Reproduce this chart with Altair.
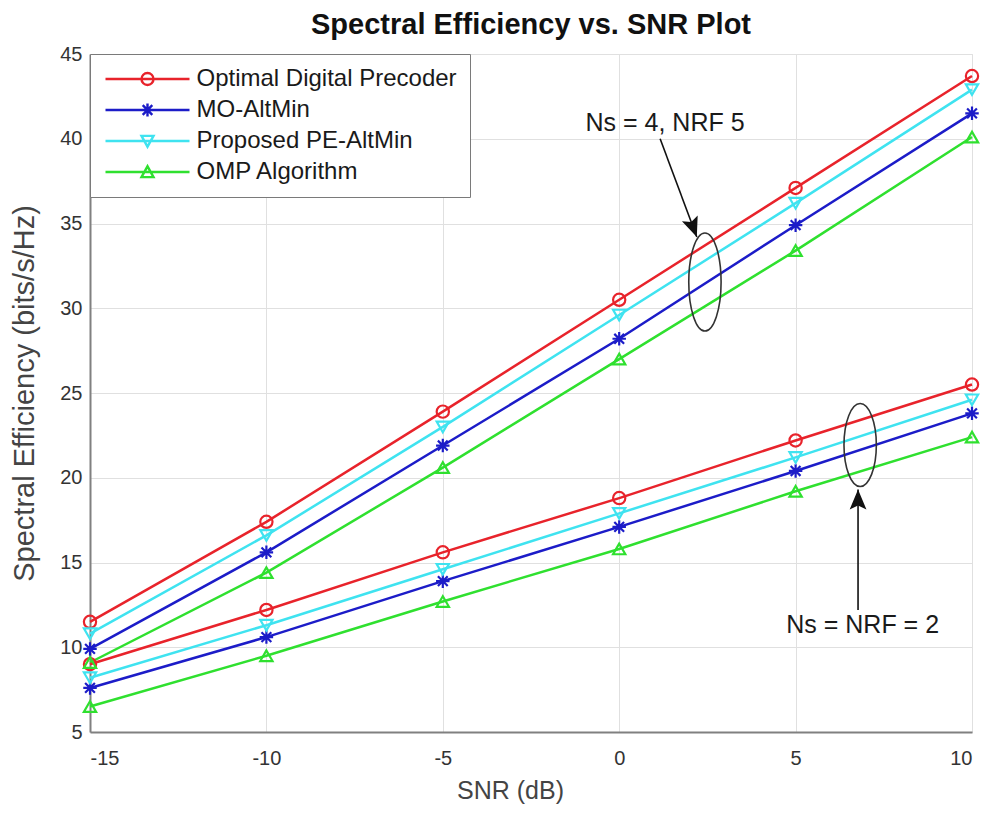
import altair as alt
import pandas as pd

# ---------------- data ----------------
snr = [-15, -10, -5, 0, 5, 10]
methods = ["Optimal Digital Precoder", "MO-AltMin", "Proposed PE-AltMin", "OMP Algorithm"]

# Ns = 4, NRF = 5 (upper bundle)
opt_4 = [11.5, 17.4, 23.9, 30.5, 37.1, 43.7]
mo_4 = [9.9, 15.6, 21.9, 28.2, 34.9, 41.5]
pe_4 = [10.8, 16.6, 23.0, 29.6, 36.2, 42.9]
omp_4 = [9.1, 14.4, 20.6, 27.0, 33.4, 40.1]

# Ns = NRF = 2 (lower bundle)
opt_2 = [9.0, 12.2, 15.6, 18.8, 22.2, 25.5]
mo_2 = [7.6, 10.6, 13.9, 17.1, 20.4, 23.8]
pe_2 = [8.2, 11.3, 14.6, 17.9, 21.2, 24.6]
omp_2 = [6.5, 9.5, 12.7, 15.8, 19.2, 22.4]

x_ticks = [-15, -10, -5, 0, 5, 10]
y_ticks = [5, 10, 15, 20, 25, 30, 35, 40, 45]

# annotations (data coordinates)
ann_text = ["Ns = 4, NRF 5", "Ns = NRF = 2"]
ann_text_x = [1.3, 6.9]
ann_text_y = [40.9, 11.3]
arrow_x = [1.16, 6.77]
arrow_y = [40.0, 12.2]
arrow_x2 = [2.2, 6.77]
arrow_y2 = [34.2, 19.3]
arrow_angle = [339.5, 180]
ellipse_x = [2.43, 6.83]
ellipse_y = [31.55, 21.93]

# ---------------- build tables ----------------
series = {
    ("Optimal Digital Precoder", "4x5"): opt_4,
    ("MO-AltMin", "4x5"): mo_4,
    ("Proposed PE-AltMin", "4x5"): pe_4,
    ("OMP Algorithm", "4x5"): omp_4,
    ("Optimal Digital Precoder", "2x2"): opt_2,
    ("MO-AltMin", "2x2"): mo_2,
    ("Proposed PE-AltMin", "2x2"): pe_2,
    ("OMP Algorithm", "2x2"): omp_2,
}
rows = []
for (m, cfg), vals in series.items():
    for s, v in zip(snr, vals):
        rows.append({"snr": s, "se": v, "method": m, "cfg": cfg})
df = pd.DataFrame(rows)

ann_df = pd.DataFrame({"x": ann_text_x, "y": ann_text_y, "text": ann_text})
arr_df = pd.DataFrame({"x": arrow_x, "y": arrow_y, "x2": arrow_x2, "y2": arrow_y2, "angle": arrow_angle})
ell_df = pd.DataFrame({"x": ellipse_x, "y": ellipse_y})

colors = ["#e8232b", "#1c1cc8", "#3fe3f0", "#2fe02f"]
FONT = "Liberation Sans"

xs = alt.Scale(domain=[-15, 10], nice=False, zero=False)
ys = alt.Scale(domain=[5, 45], nice=False, zero=False)
cscale = alt.Scale(domain=methods, range=colors)

x_axis = alt.Axis(values=x_ticks, title="SNR (dB)", labelExpr="toString(datum.value)",
                  ticks=False, labelPadding=16, labelFontSize=20, labelFont=FONT,
                  labelColor="#333333", titleFontSize=25, titleFont=FONT, titleFontWeight="normal",
                  titleColor="#444444", titleX=420, titleY=66, titleBaseline="alphabetic",
                  titleAlign="center", grid=True, gridColor="#e0e0e0", domainColor="#808080",
                  domainWidth=2)
y_axis = alt.Axis(values=y_ticks, title="Spectral Efficiency (bits/s/Hz)",
                  labelExpr="toString(datum.value)", ticks=False, labelPadding=8,
                  labelFontSize=20, labelFont=FONT, labelColor="#333333", titleFontSize=29,
                  titleFont=FONT, titleFontWeight="normal", titleColor="#444444",
                  titleX=-57, titleY=339, titleAngle=270, titleBaseline="alphabetic",
                  titleAlign="center", grid=True, gridColor="#e0e0e0", domainColor="#808080",
                  domainWidth=2)

X = alt.X("snr:Q", scale=xs, axis=x_axis)
Y = alt.Y("se:Q", scale=ys, axis=y_axis)

base = alt.Chart(df)

legend_paths = [
    "M-7,0L7,0M1,0A1,1,0,1,1,-1,0A1,1,0,1,1,1,0",
    "M-7,0L7,0M-1.1,0L1.1,0M0,-1.1L0,1.1M-0.8,-0.8L0.8,0.8M-0.8,0.8L0.8,-0.8",
    "M-7,0L7,0M-1,-0.85L1,-0.85L0,0.95Z",
    "M-7,0L7,0M-1,0.85L1,0.85L0,-0.95Z",
]
P = 13
leg = alt.Legend(title=None, orient="top-left", offset=0, padding=P,
                 symbolSize=144, symbolStrokeWidth=2.4, symbolOffset=45.5 - P,
                 symbolOpacity=1,
                 labelOffset=50 - P, labelFontSize=24, labelFont=FONT, labelColor="#1a1a1a",
                 rowPadding=7, strokeColor="#7a7a7a", fillColor="white", labelLimit=400)

lines = base.mark_line(strokeWidth=2.5).encode(
    x=X, y=Y,
    color=alt.Color("method:N", scale=cscale, legend=leg),
    detail="cfg:N",
)

marker_shapes = {
    "Optimal Digital Precoder": "circle",
    "MO-AltMin": "M-1.1,0L1.1,0M0,-1.1L0,1.1M-0.8,-0.8L0.8,0.8M-0.8,0.8L0.8,-0.8",
    "Proposed PE-AltMin": "triangle-down",
    "OMP Algorithm": "triangle-up",
}
marker_layers = []
for m in methods:
    marker_layers.append(
        base.transform_filter(alt.datum.method == m)
        .mark_point(shape=marker_shapes[m], filled=False, size=150, strokeWidth=2.2, opacity=1)
        .encode(x="snr:Q", y="se:Q", color=alt.Color("method:N", scale=cscale, legend=None))
    )

legend_layer = base.mark_point(
    filled=False, strokeWidth=2.4, opacity=1
).encode(
    x="snr:Q", y="se:Q",
    size=alt.value(0),
    color=alt.Color("method:N", scale=cscale, legend=leg),
    shape=alt.Shape("method:N", scale=alt.Scale(domain=methods, range=legend_paths), legend=leg),
)

texts = alt.Chart(ann_df).mark_text(fontSize=25, font=FONT, color="#1a1a1a").encode(
    x="x:Q", y="y:Q", text="text:N"
)
shafts = alt.Chart(arr_df).mark_rule(strokeWidth=1.6, color="#111111").encode(
    x="x:Q", y="y:Q", x2="x2:Q", y2="y2:Q"
)
heads = alt.Chart(arr_df).mark_point(
    shape="M0,0L-0.42,-1L0,-0.8L0.42,-1Z", filled=True, size=1600, color="#111111", opacity=1
).encode(x="x2:Q", y="y2:Q", angle=alt.Angle("angle:Q", scale=None))

ell_layers = []
ell_shapes = [
    "M0,-1A0.33,1,0,1,1,0,1A0.33,1,0,1,1,0,-1Z",
    "M0,-1A0.39,1,0,1,1,0,1A0.39,1,0,1,1,0,-1Z",
]
ell_sizes = [98 * 98, 83 * 83]
for i in range(2):
    ell_layers.append(
        alt.Chart(ell_df.iloc[[i]]).mark_point(
            shape=ell_shapes[i], filled=False, size=ell_sizes[i], color="#333333",
            strokeWidth=1.6, opacity=1
        ).encode(x="x:Q", y="y:Q")
    )

chart = alt.layer(
    lines, *marker_layers, *ell_layers, shafts, heads, texts, legend_layer
).properties(
    width=882, height=678,
    padding={"left": 90, "top": 54, "right": 18, "bottom": 82},
    autosize=alt.AutoSizeParams(type="none"),
    title=alt.TitleParams("Spectral Efficiency vs. SNR Plot", fontSize=29, fontWeight="bold",
                          font=FONT, color="#111111", anchor="middle", offset=8,
                          baseline="bottom", dy=33),
).configure_view(stroke="#808080", strokeWidth=2).configure(background="white")

chart.save("out.html", embed_options={"renderer": "svg", "actions": False})
